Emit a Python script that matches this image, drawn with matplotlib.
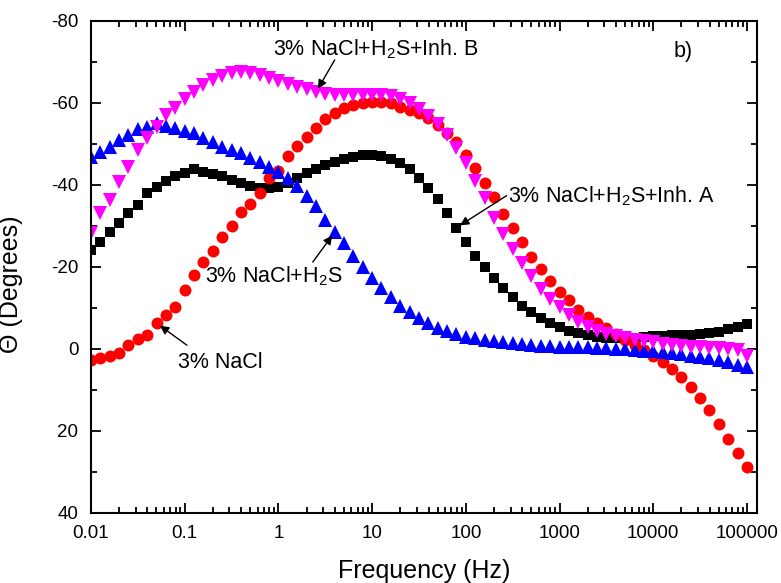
import numpy as np
import matplotlib
matplotlib.use("Agg")
import matplotlib.pyplot as plt
from matplotlib.ticker import FixedLocator, FixedFormatter, MultipleLocator, NullFormatter

plt.rcParams['font.family'] = ['Liberation Sans', 'DejaVu Sans']
plt.rcParams['mathtext.fontset'] = 'custom'
plt.rcParams['mathtext.rm'] = 'Liberation Sans'
plt.rcParams['mathtext.it'] = 'Liberation Sans:italic'

# Frequency sweep: 10 points per decade from 0.01 Hz to 100 kHz
freq = np.logspace(-2, 5, 71)

# Phase angle (degrees) of each solution
phase_nacl = [2.7, 2.3, 1.7, 1.0, -1.0, -2.4, -3.4, -6.3, -8.3, -10.2,
              -14.4, -18.0, -21.2, -23.9, -27.3, -30.0, -33.4, -35.4, -38.0, -41.7,
              -43.5, -47.0, -49.4, -51.7, -54.0, -56.0, -57.5, -58.8, -59.5, -60.0,
              -60.2, -60.2, -60.0, -59.0, -58.3, -57.5, -56.3, -54.6, -52.7, -50.5,
              -47.3, -44.1, -40.5, -37.0, -33.0, -29.5, -26.0, -22.5, -19.5, -16.5,
              -14.0, -12.0, -9.5, -7.8, -6.3, -5.0, -3.6, -2.3, -1.0, 0.3,
              1.6, 3.2, 4.9, 6.8, 9.3, 12.0, 14.9, 18.3, 22.0, 25.4,
              28.8]

phase_h2s = [-46.8, -48.0, -49.3, -51.0, -52.2, -53.6, -54.2, -55.0, -54.5, -53.9,
             -53.2, -52.6, -51.5, -50.5, -49.3, -48.5, -47.7, -46.6, -45.6, -44.4,
             -43.2, -41.8, -39.8, -37.4, -34.8, -31.5, -28.5, -25.9, -22.6, -19.9,
             -17.3, -14.9, -12.7, -10.6, -8.9, -7.5, -6.3, -5.2, -4.3, -3.6,
             -3.0, -2.6, -2.2, -1.9, -1.6, -1.4, -1.2, -1.0, -0.8, -0.7,
             -0.6, -0.5, -0.5, -0.4, -0.3, -0.2, -0.1, 0.0, 0.2, 0.4,
             0.6, 0.8, 1.0, 1.3, 1.6, 1.9, 2.3, 2.7, 3.2, 3.8,
             4.5]

phase_inh_a = [-24.1, -26.0, -28.5, -30.7, -33.2, -35.1, -38.0, -39.5, -41.0, -42.2,
               -42.9, -43.8, -43.2, -42.7, -42.2, -41.2, -40.5, -39.8, -39.3, -39.3,
               -39.5, -40.5, -41.8, -43.0, -44.0, -44.8, -45.6, -46.4, -46.8, -47.2,
               -47.3, -47.0, -46.4, -45.4, -43.8, -41.8, -39.3, -36.6, -33.2, -29.6,
               -26.1, -22.8, -19.9, -17.3, -14.9, -12.7, -10.6, -9.0, -7.6, -6.4,
               -5.3, -4.5, -3.8, -3.3, -2.9, -2.7, -2.6, -2.6, -2.7, -2.9,
               -3.1, -3.2, -3.3, -3.4, -3.5, -3.6, -3.9, -4.2, -4.8, -5.4,
               -6.1]

phase_inh_b = [-28.3, -33.2, -36.3, -40.7, -44.4, -48.5, -51.5, -54.1, -57.0, -58.8,
               -61.0, -62.7, -64.4, -65.6, -66.6, -67.2, -67.6, -67.4, -66.9, -66.2,
               -65.3, -64.6, -64.0, -63.3, -62.6, -62.2, -62.0, -62.0, -62.0, -62.0,
               -62.0, -61.9, -61.6, -61.0, -60.0, -58.5, -56.8, -54.8, -52.2, -49.0,
               -45.4, -41.0, -36.8, -32.0, -28.0, -24.3, -21.0, -17.8, -14.7, -12.2,
               -10.2, -8.2, -6.6, -5.3, -4.4, -3.7, -3.1, -2.7, -2.3, -1.9,
               -1.6, -1.3, -1.0, -0.7, -0.5, -0.4, -0.3, -0.2, 0.0, 0.3,
               1.6]

x_ticks = [0.01, 0.1, 1, 10, 100, 1000, 10000, 100000]
x_tick_labels = ["0.01", "0.1", "1", "10", "100", "1000", "10000", "100000"]
y_ticks = [-80, -60, -40, -20, 0, 20, 40]
y_tick_labels = ["-80", "-60", "-40", "-20", "0", "20", "40"]

fig = plt.figure(figsize=(7.81, 5.83), dpi=100)
ax = fig.add_axes([0.1165, 0.1201, 0.8528, 0.8439])

ax.plot(freq, phase_inh_a, ls='none', marker='s', ms=7.6, color='black', mec='black', mew=0)
ax.plot(freq, phase_nacl, ls='none', marker='o', ms=8.6, color='#ff0000', mec='#ff0000', mew=0)
ax.plot(freq, phase_h2s, ls='none', marker='^', ms=9.5, color='#0000ff', mec='#0000ff', mew=0)
ax.plot(freq, phase_inh_b, ls='none', marker='v', ms=9.5, color='#ff00ff', mec='#ff00ff', mew=0)

ax.set_xscale('log')
ax.set_xlim(0.01, 1.28e5)
ax.set_ylim(40, -80)

ax.xaxis.set_major_locator(FixedLocator(x_ticks))
ax.xaxis.set_major_formatter(FixedFormatter(x_tick_labels))
ax.xaxis.set_minor_locator(matplotlib.ticker.LogLocator(base=10, subs=np.arange(2, 10), numticks=20))
ax.xaxis.set_minor_formatter(NullFormatter())
ax.yaxis.set_major_locator(FixedLocator(y_ticks))
ax.yaxis.set_major_formatter(FixedFormatter(y_tick_labels))
ax.yaxis.set_minor_locator(MultipleLocator(10))

ax.tick_params(which='both', direction='in', top=True, right=True, width=1.3)
ax.tick_params(which='major', length=7, labelsize=13.5, pad=9)
ax.tick_params(which='minor', length=4)
for s in ax.spines.values():
    s.set_linewidth(1.5)

ax.set_xlabel('Frequency (Hz)', fontsize=18)
ax.set_ylabel('\u0398 (Degrees)', fontsize=18)
ax.xaxis.set_label_coords(0.5, -0.094)
ax.yaxis.set_label_coords(-0.102, 0.465)

arrow = dict(arrowstyle='-|>', color='black', lw=1.0, mutation_scale=13,
             shrinkA=0, shrinkB=3)
tfs = 15.5

ax.text(0.273, 0.931, '3% NaCl+H$_2$S+Inh. B', transform=ax.transAxes, fontsize=tfs,
        ha='left', va='baseline')
ax.annotate('', xy=(freq[24], phase_inh_b[24]), xytext=(0.366, 0.921),
            textcoords='axes fraction', arrowprops=arrow)

ax.text(0.626, 0.632, '3% NaCl+H$_2$S+Inh. A', transform=ax.transAxes, fontsize=tfs,
        ha='left', va='baseline')
ax.annotate('', xy=(freq[39], phase_inh_a[39]), xytext=(0.624, 0.645),
            textcoords='axes fraction', arrowprops=arrow)

ax.text(0.171, 0.4695, '3% NaCl+H$_2$S', transform=ax.transAxes, fontsize=tfs,
        ha='left', va='baseline')
ax.annotate('', xy=(freq[26], phase_h2s[26]), xytext=(0.333, 0.510),
            textcoords='axes fraction', arrowprops=arrow)

ax.text(0.131, 0.295, '3% NaCl', transform=ax.transAxes, fontsize=tfs,
        ha='left', va='baseline')
ax.annotate('', xy=(freq[7], phase_nacl[7]), xytext=(0.144, 0.341),
            textcoords='axes fraction', arrowprops=arrow)

ax.text(0.874, 0.927, 'b)', transform=ax.transAxes, fontsize=tfs,
        ha='left', va='baseline')

fig.savefig('out.png', dpi=100)
